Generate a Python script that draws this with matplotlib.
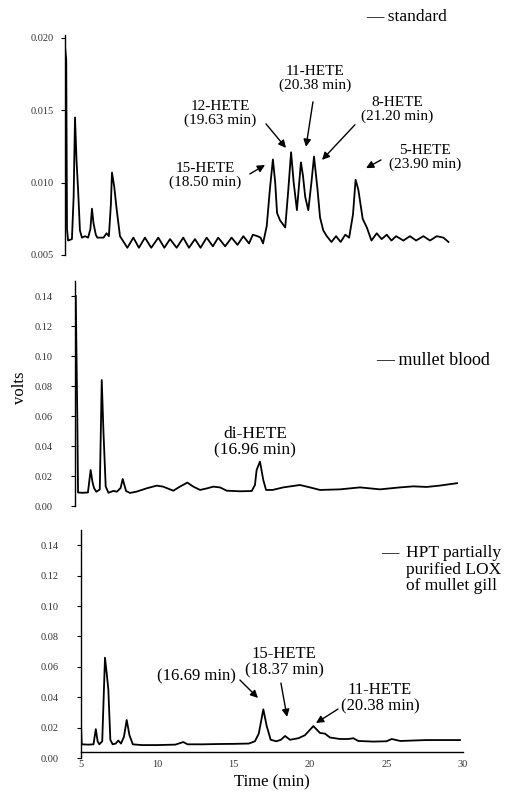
import matplotlib
matplotlib.use("Agg")
import matplotlib.pyplot as plt

W, H = 511, 797
plt.rcParams['font.family'] = ['Liberation Serif', 'DejaVu Serif']

# ---------------- data ----------------
std_time = [5.0, 5.08, 5.13, 5.2, 5.45, 5.56, 5.65, 5.75, 5.85, 5.97, 6.1, 6.3, 6.5, 6.65,
            6.75, 6.85, 7.0, 7.1, 7.5, 7.7, 7.85, 7.98, 8.05, 8.2, 8.35, 8.57,
            9.05, 9.44, 9.8, 10.19, 10.6, 11.06, 11.45, 11.82, 12.25, 12.68, 13.05, 13.44,
            13.8, 14.2, 14.6, 14.95, 15.4, 15.82, 16.2, 16.58, 16.95, 17.2, 17.5, 17.7,
            17.86, 18.1, 18.3, 18.5, 18.65, 18.77, 18.96, 19.3, 19.5, 19.68, 19.85, 20.06,
            20.32, 20.45, 20.6, 20.8, 21.0, 21.17, 21.4, 21.56, 21.77, 22.0, 22.3, 22.6,
            22.9, 23.2, 23.45, 23.7, 23.87, 24.05, 24.33, 24.6, 24.9, 25.24, 25.56, 25.89,
            26.2, 26.5, 26.97, 27.4, 27.8, 28.27, 28.7, 29.14, 29.57, 29.9]
std_volts = [0.0194, 0.0185, 0.0068, 0.0060, 0.0061, 0.0090, 0.0145, 0.0115, 0.0095, 0.0067,
             0.0062, 0.0063, 0.0062, 0.0068, 0.0082, 0.0072, 0.0064, 0.0062, 0.0062, 0.0065,
             0.0063, 0.0085, 0.0107, 0.0097, 0.0082, 0.0063,
             0.0055, 0.0062, 0.0055, 0.0062, 0.0055, 0.0062, 0.0055, 0.0061, 0.0055, 0.0062,
             0.0055, 0.0061, 0.0055, 0.0062, 0.0056, 0.0062, 0.0056, 0.0062, 0.0057, 0.0063,
             0.0058, 0.0064, 0.0063, 0.0062, 0.0058, 0.0070, 0.0095, 0.0116, 0.0100, 0.0079,
             0.0074, 0.0069, 0.0095, 0.0121, 0.0100, 0.0081, 0.0114, 0.0105, 0.0090, 0.0081,
             0.0100, 0.0118, 0.0095, 0.0076, 0.0067, 0.0063, 0.0059, 0.0063, 0.0059, 0.0064,
             0.0062, 0.0078, 0.0102, 0.0095, 0.0075, 0.0069, 0.0060, 0.0065, 0.0061, 0.0064,
             0.0060, 0.0063, 0.0060, 0.0063, 0.0060, 0.0063, 0.0060, 0.0063, 0.0062, 0.0059]

blood_time = [4.85, 4.95, 5.0, 5.3, 5.65, 5.83, 5.95, 6.05, 6.2, 6.43, 6.56, 6.67, 6.82, 7.0,
              7.33, 7.55, 7.8, 7.94, 8.16, 8.42, 8.86, 9.52, 10.18, 10.6, 11.27, 11.7,
              12.19, 12.59, 13.03, 13.5, 13.9, 14.34, 14.78, 15.66, 16.43, 16.64, 16.75,
              16.97, 17.19, 17.37, 17.8, 18.5, 19.6, 20.26, 20.92, 22.24, 23.55, 24.87,
              26.18, 27.06, 27.94, 28.8, 30.0]
blood_volts = [0.140, 0.060, 0.0090, 0.0088, 0.0090, 0.0240, 0.0160, 0.0120, 0.0095, 0.0110,
               0.0840, 0.0500, 0.0130, 0.0088, 0.0101, 0.0095, 0.0120, 0.0180, 0.0100, 0.0087,
               0.0096, 0.0118, 0.0136, 0.0129, 0.0102, 0.0129, 0.0156, 0.0129, 0.0107, 0.0118,
               0.0129, 0.0124, 0.0102, 0.0098, 0.0100, 0.0140, 0.0240, 0.0296, 0.0173, 0.0107,
               0.0107, 0.0124, 0.0140, 0.0124, 0.0107, 0.0111, 0.0124, 0.0111, 0.0124, 0.0131,
               0.0127, 0.0136, 0.0153]

gill_time = [5.0, 5.04, 5.08, 5.5, 5.85, 6.0, 6.12, 6.23, 6.42, 6.6, 6.72, 6.82, 6.95, 7.1,
             7.3, 7.47, 7.65, 7.84, 8.02, 8.2, 8.42, 9.0, 10.0, 11.2, 11.72, 12.0, 13.0,
             14.0, 15.0, 16.0, 16.4, 16.65, 16.95, 17.17, 17.43, 17.8, 18.1, 18.37, 18.69,
             19.24, 19.67, 20.22, 20.65, 20.98, 21.3, 21.95, 22.5, 22.83, 23.16, 24.14, 25.0,
             25.34, 25.9, 27.6, 29.8]
gill_volts = [0.145, 0.020, 0.0090, 0.0088, 0.0090, 0.0190, 0.0110, 0.0090, 0.0110, 0.0660,
              0.0550, 0.0450, 0.0120, 0.0090, 0.0095, 0.0115, 0.0095, 0.0140, 0.0250, 0.0150,
              0.0090, 0.0085, 0.0085, 0.0088, 0.0105, 0.0090, 0.0090, 0.0092, 0.0093, 0.0095,
              0.0110, 0.0160, 0.0320, 0.0210, 0.0120, 0.0110, 0.0120, 0.0145, 0.0120, 0.0130,
              0.0150, 0.0210, 0.0165, 0.0160, 0.0135, 0.0125, 0.0125, 0.0130, 0.0112, 0.0108,
              0.0110, 0.0125, 0.0112, 0.0118, 0.0118]

std_yticks = [0.020, 0.015, 0.010, 0.005]
std_yticklabels = ["0.020", "0.015", "0.010", "0.005"]
volt_yticks = [0.14, 0.12, 0.10, 0.08, 0.06, 0.04, 0.02, 0.00]
volt_yticklabels = ["0.14", "0.12", "0.10", "0.08", "0.06", "0.04", "0.02", "0.00"]
time_ticks = [5, 10, 15, 20, 25, 30]
time_ticklabels = ["5", "10", "15", "20", "25", "30"]

# annotation texts
std_labels = ["15-HETE\n(18.50 min)", "12-HETE\n(19.63 min)", "11-HETE\n(20.38 min)",
              "8-HETE\n(21.20 min)", "5-HETE\n(23.90 min)"]
blood_labels = ["di-HETE\n(16.96 min)"]
gill_labels = ["(16.69 min)", "15-HETE\n(18.37 min)", "11-HETE\n(20.38 min)"]

# ---------------- layout helpers ----------------
def rect(l, t, r, b):
    return [l / W, 1 - b / H, (r - l) / W, (b - t) / H]

def fx(px):
    return px / W

def fy(py):
    return 1 - py / H

fig = plt.figure(figsize=(W / 100, H / 100), dpi=100)
fig.patch.set_facecolor('white')

ax1 = fig.add_axes(rect(65, 35, 450, 255))
ax2 = fig.add_axes(rect(75, 281, 458, 506))
ax3 = fig.add_axes(rect(80.5, 530, 463, 758))

line_kw = dict(color='black', lw=1.3, solid_joinstyle='round')
ax1.plot(std_time, std_volts, **line_kw)
ax2.plot(blood_time, blood_volts, **line_kw)
ax3.plot(gill_time, gill_volts, **line_kw)

ax1.set_xlim(5, 30)
ax1.set_ylim(0.005, 0.0202)
ax2.set_xlim(4.8, 30)
ax2.set_ylim(0, 0.15)
ax3.set_xlim(5, 30)
ax3.set_ylim(0, 0.15)

for ax in (ax1, ax2, ax3):
    ax.set_facecolor('none')
    ax.spines['top'].set_visible(False)
    ax.spines['right'].set_visible(False)
    ax.spines['left'].set_linewidth(1.0)
    ax.tick_params(axis='y', direction='out', length=3, width=0.8, labelsize=7.5,
                   labelcolor='#333333')

for ax in (ax1, ax2):
    ax.spines['bottom'].set_visible(False)
    ax.set_xticks([])

ax1.set_yticks(std_yticks)
ax1.set_yticklabels(std_yticklabels)
ax1.tick_params(axis='y', pad=5)

for ax in (ax2, ax3):
    ax.set_yticks(volt_yticks)
    ax.set_yticklabels(volt_yticklabels)
    ax.tick_params(axis='y', pad=13)

ax3.spines['bottom'].set_position(('data', 0.004))
ax3.spines['bottom'].set_linewidth(1.0)
ax3.set_xticks(time_ticks)
ax3.set_xticklabels(time_ticklabels)
ax3.tick_params(axis='x', length=0, pad=6, labelsize=7.5, labelcolor='#333333')

ax3.set_xlabel("Time (min)", fontsize=12, labelpad=4)
fig.text(fx(20), fy(388), "volts", rotation=90, fontsize=12, ha='center', va='center')

# ---------------- annotations ----------------
arrow_kw = dict(arrowstyle='-|>', color='black', lw=1.0, mutation_scale=11,
                shrinkA=0, shrinkB=0)

def note(ax, text, xytext, size):
    ax.text(xytext[0], xytext[1], text, ha='center', va='center', fontsize=size,
            linespacing=1.05)

def arrow(ax, head, tail):
    ax.annotate("", xy=head, xytext=tail, arrowprops=arrow_kw, annotation_clip=False)

# standard panel
note(ax1, std_labels[0], (14.1, 0.0105), 11)
arrow(ax1, (17.99, 0.01122), (17.0, 0.0106))
note(ax1, std_labels[1], (15.06, 0.01475), 11)
arrow(ax1, (19.35, 0.0124), (18.05, 0.01406))
note(ax1, std_labels[2], (21.23, 0.0172), 11)
arrow(ax1, (20.65, 0.01247), (21.1, 0.01558))
note(ax1, std_labels[3], (26.56, 0.01506), 11)
arrow(ax1, (21.69, 0.01157), (23.83, 0.0140))
note(ax1, std_labels[4], (28.38, 0.01174), 11)
arrow(ax1, (24.55, 0.0110), (25.52, 0.01157))

# blood panel
note(ax2, blood_labels[0], (16.64, 0.0423), 12.5)

# gill panel
note(ax3, gill_labels[0], (12.61, 0.054), 12)
arrow(ax3, (16.6, 0.0395), (15.42, 0.0513))
note(ax3, gill_labels[1], (18.3, 0.0628), 12)
arrow(ax3, (18.5, 0.027), (18.1, 0.0493))
note(ax3, gill_labels[2], (24.57, 0.0395), 12)
arrow(ax3, (20.39, 0.023), (21.83, 0.0322))

# legend-like sample labels
fig.text(fx(366), fy(17), "\u2014 standard", fontsize=12.5, ha='left', va='center')
fig.text(fx(376), fy(360), "\u2014 mullet blood", fontsize=13, ha='left', va='center')
fig.text(fx(381), fy(553), "\u2014", fontsize=12.5, ha='left', va='center')
fig.text(fx(406), fy(553), "HPT partially", fontsize=12.5, ha='left', va='center')
fig.text(fx(406), fy(570), "purified LOX", fontsize=12.5, ha='left', va='center')
fig.text(fx(406), fy(586), "of mullet gill", fontsize=12.5, ha='left', va='center')

fig.savefig("out.png", dpi=100, facecolor='white')
